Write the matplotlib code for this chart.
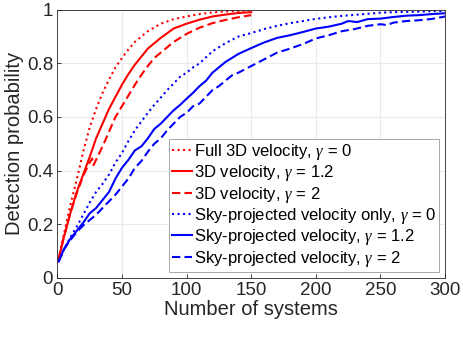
import matplotlib
matplotlib.use("Agg")
import matplotlib.pyplot as plt
import numpy as np

plt.rcParams['font.family'] = ['Liberation Sans', 'DejaVu Sans']
plt.rcParams['mathtext.fontset'] = 'custom'
plt.rcParams['mathtext.it'] = 'Liberation Serif:italic'

#%% Dados

# Full 3D velocity, gamma = 0
x_full0 = [1, 5, 10, 15, 20, 25, 30, 35, 40, 45, 50, 55, 60, 70, 80, 90,
           100, 110, 120, 130, 140, 150]
y_full0 = [0.07, 0.16, 0.27, 0.365, 0.47, 0.56, 0.63, 0.69, 0.74, 0.785, 0.82,
           0.852, 0.88, 0.92, 0.948, 0.965, 0.975, 0.984, 0.99, 0.994, 0.996, 0.998]

# 3D velocity, gamma = 1.2
x_3d12 = [1, 5, 10, 15, 20, 25, 30, 35, 40, 45, 50, 55, 60, 65, 70, 75, 80,
          90, 100, 110, 120, 130, 140, 150]
y_3d12 = [0.07, 0.15, 0.24, 0.32, 0.385, 0.45, 0.52, 0.575, 0.63, 0.675, 0.72,
          0.76, 0.795, 0.825, 0.855, 0.875, 0.895, 0.93, 0.948, 0.963, 0.975,
          0.982, 0.988, 0.991]

# 3D velocity, gamma = 2
x_3d2 = [1, 5, 10, 15, 20, 25, 27, 28, 30, 35, 40, 45, 50, 55, 60, 65, 70, 75,
         80, 90, 100, 110, 120, 130, 140, 150]
y_3d2 = [0.07, 0.15, 0.24, 0.315, 0.38, 0.43, 0.445, 0.42, 0.44, 0.49, 0.545,
         0.6, 0.64, 0.68, 0.72, 0.757, 0.79, 0.82, 0.84, 0.88, 0.91, 0.933,
         0.95, 0.962, 0.972, 0.98]

# Sky-projected velocity only, gamma = 0
x_sky0 = [1, 5, 10, 15, 20, 25, 30, 35, 40, 45, 50, 55, 60, 65, 70, 75, 80, 85,
          90, 95, 100, 105, 110, 120, 130, 140, 150, 160, 170, 180, 190, 200,
          210, 220, 230, 240, 250, 260, 270, 280, 290, 300]
y_sky0 = [0.06, 0.105, 0.15, 0.19, 0.235, 0.28, 0.32, 0.35, 0.385, 0.43, 0.465,
          0.51, 0.55, 0.583, 0.615, 0.645, 0.672, 0.7, 0.725, 0.75, 0.765,
          0.785, 0.8, 0.845, 0.875, 0.9, 0.913, 0.928, 0.94, 0.95, 0.958,
          0.966, 0.972, 0.977, 0.981, 0.985, 0.989, 0.991, 0.992, 0.993,
          0.995, 0.996]

# Sky-projected velocity, gamma = 1.2
x_sky12 = [1, 5, 10, 15, 20, 25, 30, 35, 40, 45, 50, 55, 60, 65, 70, 75, 80, 85,
           90, 95, 100, 105, 110, 115, 120, 125, 130, 135, 140, 150, 160, 170,
           180, 190, 200, 210, 220, 225, 232, 240, 250, 260, 270, 280, 290, 300]
y_sky12 = [0.06, 0.105, 0.145, 0.175, 0.205, 0.24, 0.26, 0.29, 0.32, 0.37, 0.41,
           0.44, 0.475, 0.49, 0.52, 0.555, 0.575, 0.6, 0.625, 0.645, 0.668,
           0.69, 0.715, 0.735, 0.765, 0.785, 0.805, 0.82, 0.835, 0.857, 0.878,
           0.895, 0.905, 0.917, 0.93, 0.937, 0.948, 0.958, 0.954, 0.965, 0.967,
           0.973, 0.978, 0.98, 0.984, 0.987]

# Sky-projected velocity, gamma = 2
x_sky2 = [1, 5, 10, 15, 20, 25, 30, 35, 40, 45, 50, 55, 60, 65, 70, 75, 80, 85,
          90, 95, 100, 105, 110, 115, 120, 125, 130, 135, 140, 150, 160, 170,
          180, 190, 200, 210, 220, 230, 240, 250, 255, 260, 270, 280, 290, 300]
y_sky2 = [0.06, 0.105, 0.14, 0.17, 0.195, 0.215, 0.235, 0.26, 0.285, 0.31, 0.34,
          0.37, 0.41, 0.435, 0.47, 0.5, 0.52, 0.55, 0.575, 0.6, 0.615, 0.64,
          0.65, 0.675, 0.7, 0.715, 0.735, 0.755, 0.765, 0.79, 0.815, 0.84,
          0.855, 0.872, 0.893, 0.905, 0.92, 0.928, 0.94, 0.946, 0.943, 0.952,
          0.958, 0.961, 0.966, 0.975]

legendas = ["Full 3D velocity, $\\gamma$ = 0",
            "3D velocity, $\\gamma$ = 1.2",
            "3D velocity, $\\gamma$ = 2",
            "Sky-projected velocity only, $\\gamma$ = 0",
            "Sky-projected velocity, $\\gamma$ = 1.2",
            "Sky-projected velocity, $\\gamma$ = 2"]

#%% Gráfico

fig = plt.figure(figsize=(4.63, 3.37), dpi=100)
ax = fig.add_axes([0.1238, 0.176, 0.8376, 0.795])

lw = 1.5
ax.plot(x_full0, y_full0, ':', color='#ff0000', lw=lw, label=legendas[0])
ax.plot(x_3d12, y_3d12, '-', color='#ff0000', lw=lw, label=legendas[1])
ax.plot(x_3d2, y_3d2, '--', color='#ff0000', lw=lw, dashes=(4, 2), label=legendas[2])
ax.plot(x_sky0, y_sky0, ':', color='#0000ff', lw=lw, label=legendas[3])
ax.plot(x_sky12, y_sky12, '-', color='#0000ff', lw=lw, label=legendas[4])
ax.plot(x_sky2, y_sky2, '--', color='#0000ff', lw=lw, dashes=(4, 2), label=legendas[5])

ax.set_xlim(0, 300)
ax.set_ylim(0, 1)
ax.set_xticks(np.arange(0, 301, 50))
ax.set_yticks([0, 0.2, 0.4, 0.6, 0.8, 1])
ax.set_yticklabels(['0', '0.2', '0.4', '0.6', '0.8', '1'])
ax.grid(True, color='#ebebeb', lw=0.8)
ax.set_axisbelow(True)
for s in ax.spines.values():
    s.set_color('#262626')
    s.set_linewidth(0.6)
ax.tick_params(direction='in', length=3, width=0.6, colors='#262626',
               labelsize=13.5, pad=3)
ax.set_xlabel('Number of systems', fontsize=14.5, color='#262626', labelpad=1)
ax.set_ylabel('Detection probability', fontsize=14.5, color='#262626', labelpad=2)

leg = ax.legend(loc='lower right', fontsize=12, handlelength=1.2,
                handletextpad=0.1, labelspacing=0.08, borderpad=0.2,
                borderaxespad=0.35, fancybox=False, framealpha=1)
leg.get_frame().set_edgecolor('#999999')
leg.get_frame().set_linewidth(0.6)

plt.savefig("out.png", dpi=100)
